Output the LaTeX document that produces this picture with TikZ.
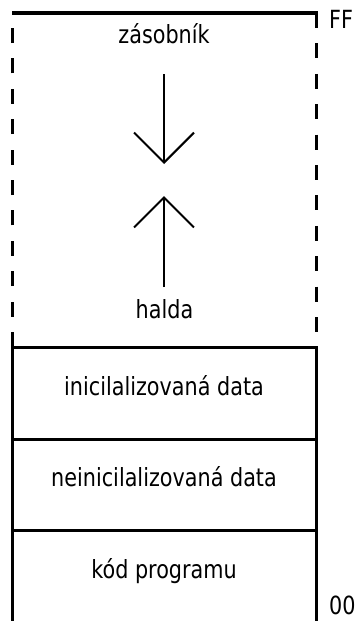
\documentclass[tikz,border=0pt]{standalone}
\usepackage{fontspec}
\setmainfont{DejaVu Sans}[FakeStretch=0.83]
\usetikzlibrary{arrows.meta}
\begin{document}
\begin{tikzpicture}[x=1pt,y=-1pt,
  lbl/.style={font=\fontsize{25}{30}\selectfont, inner sep=0pt, anchor=base},
  seg/.style={draw, line width=3pt, minimum width=303.5pt, inner sep=0pt, outer sep=0pt},
  wall/.style={line width=3pt, dash pattern=on 15pt off 15.4pt},
  growarrow/.style={line width=2pt, -{Straight Barb[length=30pt,width=60pt]}}]
\useasboundingbox (0,0) rectangle (357,621);

% memory segments with fixed size
\node (init)   [seg, minimum height=92.5pt] at (164.25,393.25) {};
\node (uninit) [seg, minimum height=90.5pt] at (164.25,484.75) {};
\node (code)   [seg, minimum height=92pt]   at (164.25,576) {};

% free region: dashed side walls and solid top edge
\coordinate (tl) at (12.5,13);
\coordinate (tr) at (316,13);
\coordinate (bl) at (12.5,347);
\coordinate (br) at (316,347);
\draw[wall] (bl) -- (tl);
\draw[wall] (tr) -- (br);
\draw[line width=4pt] (12,13) -- (317.5,13);

% labels
\node (stack) [lbl] at (164,43) {zásobník};
\node (heap)  [lbl] at (164.5,318) {halda};
\node (tinit) [lbl] at (164,395) {inicilalizovaná data};
\node (tun)   [lbl] at (164,486) {neinicilalizovaná data};
\node (tcode) [lbl] at (164,578) {kód programu};
\node (ff)    [lbl, anchor=base west] at (329,28.5) {FF};
\node (zz)    [lbl, anchor=base west] at (329,614.5) {00};

% growth directions of stack and heap
\coordinate (sa) at (164,74);
\coordinate (sb) at (164,164);
\coordinate (ha) at (164,287);
\coordinate (hb) at (164,196);
\draw[growarrow] (sa) -- (sb);
\draw[growarrow] (ha) -- (hb);
\end{tikzpicture}
\end{document}
